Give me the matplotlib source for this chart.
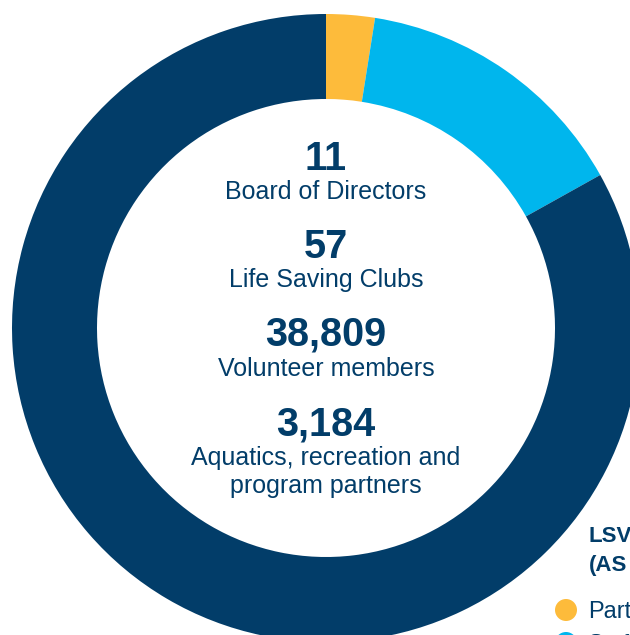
import matplotlib.pyplot as plt
from matplotlib.patches import Circle

# share of the ring (estimated from the arc angles)
segments = ["Partners", "Staff", "Volunteers"]
shares = [2.5, 14.4, 83.1]
seg_colors = ["#FDBB3B", "#00B6ED", "#023D69"]

stat_numbers = ["11", "57", "38,809", "3,184"]
stat_labels = ["Board of Directors", "Life Saving Clubs", "Volunteer members",
               "Aquatics, recreation and", "program partners"]

navy = "#023D69"
W, H = 630, 635

plt.rcParams['font.family'] = ['Liberation Sans', 'DejaVu Sans']

fig = plt.figure(figsize=(W / 100, H / 100), dpi=100)
ax = fig.add_axes([0, 0, 1, 1])

cx, cy, r_out, ring = 326, H - 328, 314, 85
ax.pie(shares, colors=seg_colors, startangle=90, counterclock=False,
       center=(cx, cy), radius=r_out,
       wedgeprops=dict(width=ring, linewidth=0))
ax.set_xlim(0, W)
ax.set_ylim(0, H)
ax.set_aspect('equal')
ax.axis('off')

# centre stats, baselines in pixels from the top
num_base = [170, 258, 345, 435]
lab_base = [199, 287, 376, 465, 493]
for num, nb in zip(stat_numbers, num_base):
    ax.text(cx, H - nb, num, ha='center', va='baseline', fontsize=28.5,
            fontweight='bold', color=navy)
for lab, lb in zip(stat_labels, lab_base):
    ax.text(cx, H - lb, lab, ha='center', va='baseline', fontsize=18,
            color=navy)

# legend, cut by the right edge of the picture like the reference
ax.text(589, H - 542, "LSV", ha='left', va='baseline', fontsize=16,
        fontweight='bold', color=navy)
ax.text(589, H - 571, "(AS", ha='left', va='baseline', fontsize=16,
        fontweight='bold', color=navy)
for i, (name, col) in enumerate(zip(segments[:2], seg_colors[:2])):
    y = H - (610 + 33 * i)
    ax.add_patch(Circle((566, y), 11, color=col, linewidth=0))
    ax.text(588, y - 8, name, ha='left', va='baseline', fontsize=17,
            color=navy)

fig.savefig("out.png", dpi=100)
